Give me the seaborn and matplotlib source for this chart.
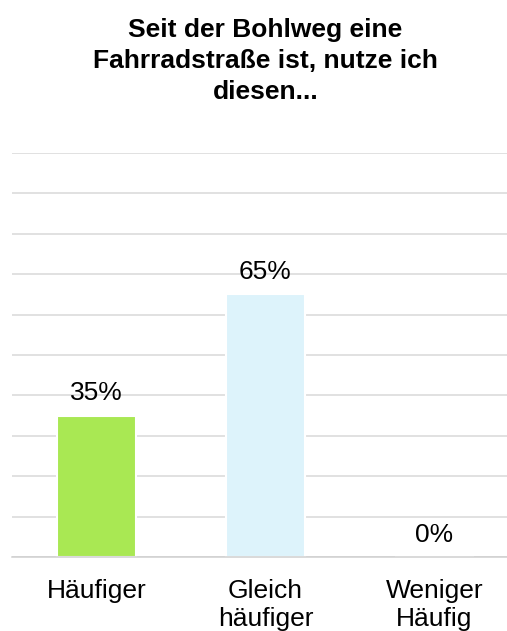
import numpy as np
import pandas as pd
import seaborn as sns
import matplotlib.pyplot as plt

# data
categories = ["Häufiger", "Gleich\nhäufiger", "Weniger\nHäufig"]
values = [35, 65, 0]
bar_colors = ["#a9e853", "#ddf3fb", "#c5e0b4"]
title = "Seit der Bohlweg eine\nFahrradstraße ist, nutze ich\ndiesen..."

sns.set_style("white")
plt.rcParams['font.family'] = ['Liberation Sans', 'DejaVu Sans']
plt.rcParams['text.color'] = 'black'
plt.rcParams['xtick.color'] = 'black'

df = pd.DataFrame({"cat": categories, "val": values})

fig = plt.figure(figsize=(5.07, 6.31), dpi=100)
# axes runs off the right edge like in the original screenshot
ax = fig.add_axes([12 / 507, 74 / 631, 507 / 507, 404 / 631])

sns.barplot(data=df, x="cat", y="val", hue="cat", palette=bar_colors,
            saturation=1, legend=False, width=0.47, ax=ax, zorder=2,
            edgecolor="white", linewidth=1.5)

ax.set_ylim(0, 100)
ax.set_xlim(-0.5, 2.5)
ax.set_yticks(np.arange(0, 101, 10))
ax.yaxis.grid(True, color="#d9d9d9", linewidth=1.1, zorder=0)
ax.set_axisbelow(True)
ax.tick_params(axis="y", left=False, labelleft=False)

# category labels, separators as minor ticks
ax.set_xticks(range(len(categories)))
ax.set_xticklabels(categories, fontsize=19, linespacing=1.22, color="black",
                   va="top")
ax.tick_params(axis="x", which="major", length=0, pad=15.5)
ax.set_xticks([-0.5, 0.5, 1.5, 2.5], minor=True)
ax.tick_params(axis="x", which="minor", length=6, width=1.1, color="#d0d0d0")
ax.set_xlabel("")
ax.set_ylabel("")

for s in ["top", "left", "right"]:
    ax.spines[s].set_visible(False)
ax.spines["bottom"].set_color("#d0d0d0")
ax.spines["bottom"].set_linewidth(1.1)

for i, v in enumerate(values):
    ax.annotate(f"{v}%", (i, v), xytext=(0, 11), textcoords="offset points",
                ha="center", va="baseline", fontsize=19, color="black")

ax.set_title(title, fontsize=19, fontweight="bold", pad=39, linespacing=1.36,
             color="black")

fig.savefig("out.png", dpi=100)
